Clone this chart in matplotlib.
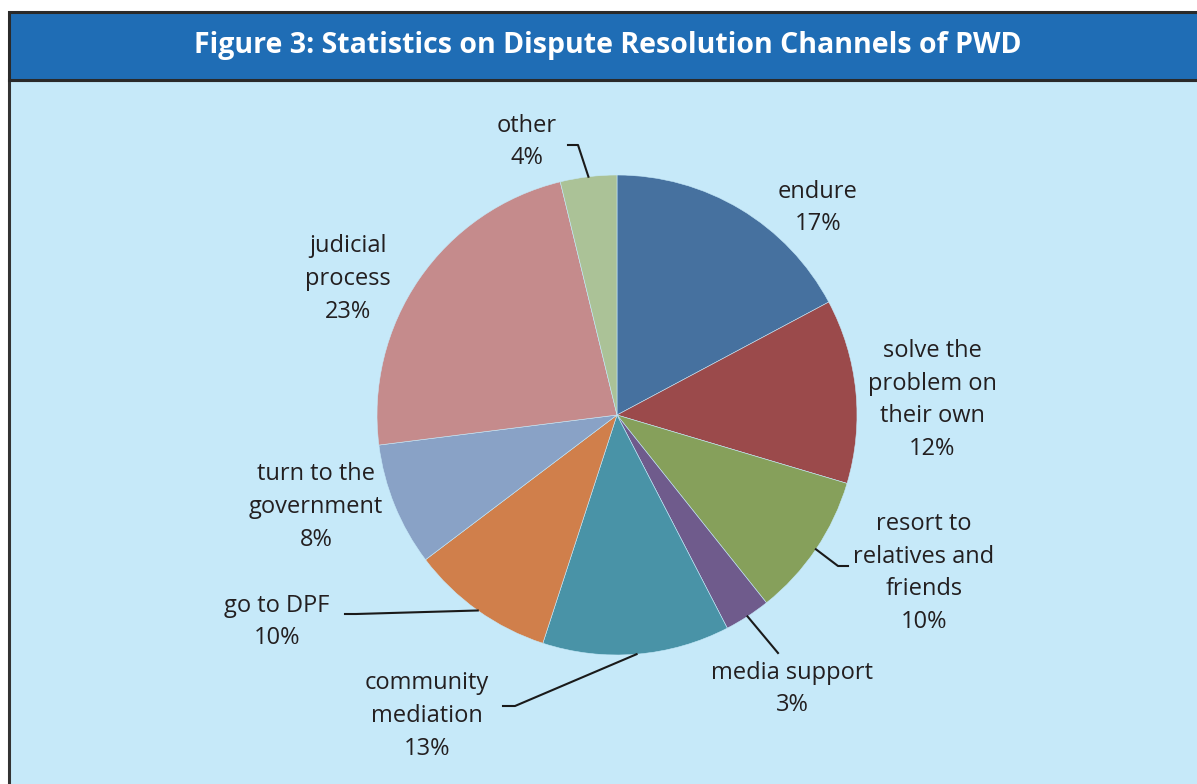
import numpy as np
import matplotlib
matplotlib.use("Agg")
import matplotlib.pyplot as plt
from matplotlib.patches import Rectangle

W, H = 1197, 784

title = "Figure 3: Statistics on Dispute Resolution Channels of PWD"
labels = ["endure", "solve the\nproblem on\ntheir own", "resort to\nrelatives and\nfriends",
          "media support", "community\nmediation", "go to DPF",
          "turn to the\ngovernment", "judicial\nprocess", "other"]
shares = [17.2, 12.4, 9.7, 3.1, 12.6, 9.7, 8.3, 23.2, 3.8]
shown_pct = [17, 12, 10, 3, 13, 10, 8, 23, 4]
colors = ["#46719f", "#9b4a4b", "#86a05b", "#6f5b8c", "#4993a7",
          "#d07f4b", "#89a2c6", "#c58b8c", "#abc297"]

# label centres (image pixels) and optional elbow points for leader lines
label_pos = [(818, 208), (932, 400), (924, 573), (792, 689), (427, 716),
             (277, 622), (316, 507), (348, 279), (527, 142)]
elbows = [None, None, [(848, 566), (838, 566)], [(778, 653)],
          [(503, 706), (515, 706)], [(345, 614), (356, 614)], None, None,
          [(568, 145), (578, 145)]]


def fy(y):
    return H - y


plt.rcParams['font.family'] = ['Open Sans', 'DejaVu Sans']
fig = plt.figure(figsize=(W / 100, H / 100), dpi=100)
ax = fig.add_axes([0, 0, 1, 1])

# panel background and title bar
ax.add_patch(Rectangle((9, fy(800)), 1200, 800 - 80, facecolor="#c6e9f9",
                       edgecolor="#333333", lw=2.2, zorder=0))
ax.add_patch(Rectangle((9, fy(80)), 1200, 80 - 12, facecolor="#1f6db5",
                       edgecolor="#2a2a2a", lw=2.2, zorder=1))
ax.text(608, fy(45), title, color="white", fontsize=20.5, fontweight="bold",
        ha="center", va="center", zorder=2)

cx, cy, r = 617, fy(415), 240
wedges, _ = ax.pie(shares, colors=colors, startangle=90, counterclock=False,
                   center=(cx, cy), radius=r,
                   wedgeprops=dict(linewidth=0.4, edgecolor="#c6e9f9"))

for i, w in enumerate(wedges):
    tx, ty = label_pos[i]
    ax.text(tx, fy(ty), f"{labels[i]}\n{shown_pct[i]}%", ha="center",
            va="center", fontsize=17, color="#231f20", linespacing=1.48, zorder=3)
    if elbows[i] is not None:
        mid = np.deg2rad((w.theta1 + w.theta2) / 2)
        ex, ey = cx + r * np.cos(mid), cy + r * np.sin(mid)
        xs = [p[0] for p in elbows[i]] + [ex]
        ys = [fy(p[1]) for p in elbows[i]] + [ey]
        ax.plot(xs, ys, color="#1a1a1a", lw=1.5, zorder=3)

ax.set_xlim(0, W)
ax.set_ylim(0, H)
ax.set_aspect("equal")
ax.axis("off")
fig.patch.set_facecolor("white")
fig.savefig("out.png", dpi=100)
